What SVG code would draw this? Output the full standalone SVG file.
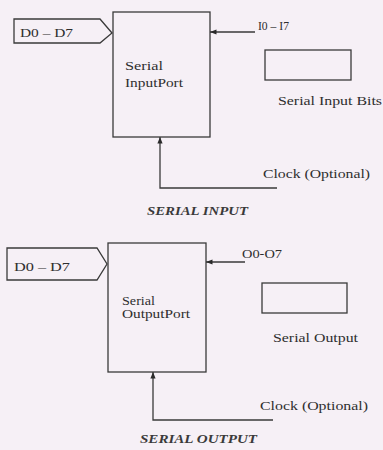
<svg xmlns="http://www.w3.org/2000/svg" width="383" height="450" viewBox="0 0 383 450">
<defs>
<marker id="ah" viewBox="0 0 10 10" refX="10" refY="5" markerWidth="5" markerHeight="5" orient="auto">
<path d="M0,1 L10,5 L0,9 z" fill="#2a2a2a"/>
</marker>
<style>
.ln{fill:none;stroke:#3a3a3a;stroke-width:1.3}
.bx{fill:none;stroke:#3a3a3a;stroke-width:1.3}
.t{font-family:"Liberation Serif",serif;font-size:12.5px;fill:#2e2e2e}
.s{font-family:"Liberation Serif",serif;font-size:12px;fill:#2e2e2e}
.cap{font-family:"Liberation Serif",serif;font-size:12.5px;font-style:italic;font-weight:bold;fill:#3a3a3a}
</style>
</defs>
<rect width="383" height="450" fill="#f6f0f6"/>

<g id="in-data">
<path class="bx" d="M14,19 H100 L112,33 L100,43 H14 Z"/>
<text class="t" x="20" y="37" textLength="53" lengthAdjust="spacingAndGlyphs">D0 – D7</text>
</g>
<g id="serial-input-port">
<rect class="bx" x="113" y="12" width="97" height="125"/>
<text class="t" x="125" y="70" textLength="38" lengthAdjust="spacingAndGlyphs">Serial</text>
<text class="t" x="125" y="87" textLength="58" lengthAdjust="spacingAndGlyphs">InputPort</text>
</g>
<g id="in-bits-label">
<text class="s" x="258" y="30" textLength="31" lengthAdjust="spacingAndGlyphs">I0 – I7</text>
</g>
<g id="serial-input-bits">
<rect class="bx" x="265" y="50" width="86" height="30"/>
<text class="t" x="278" y="105" textLength="104" lengthAdjust="spacingAndGlyphs">Serial Input Bits</text>
</g>
<g id="in-clock">
<text class="t" x="263" y="178" textLength="107" lengthAdjust="spacingAndGlyphs">Clock (Optional)</text>
</g>
<text class="cap" x="147" y="215" textLength="101" lengthAdjust="spacingAndGlyphs">SERIAL INPUT</text>

<g id="out-data">
<path class="bx" d="M7,248 H97 L107,264 L97,280 H7 Z"/>
<text class="t" x="14" y="271" textLength="56" lengthAdjust="spacingAndGlyphs">D0 – D7</text>
</g>
<g id="serial-output-port">
<rect class="bx" x="108" y="243" width="98" height="129"/>
<text class="t" x="122" y="305" textLength="33" lengthAdjust="spacingAndGlyphs">Serial</text>
<text class="t" x="122" y="318" textLength="68" lengthAdjust="spacingAndGlyphs">OutputPort</text>
</g>
<g id="out-bits-label">
<text class="s" x="242" y="258" textLength="40" lengthAdjust="spacingAndGlyphs">O0-O7</text>
</g>
<g id="serial-output">
<rect class="bx" x="262" y="283" width="85" height="30"/>
<text class="t" x="273" y="342" textLength="85" lengthAdjust="spacingAndGlyphs">Serial Output</text>
</g>
<g id="out-clock">
<text class="t" x="260" y="410" textLength="108" lengthAdjust="spacingAndGlyphs">Clock (Optional)</text>
</g>
<text class="cap" x="140" y="443" textLength="117" lengthAdjust="spacingAndGlyphs">SERIAL OUTPUT</text>

<g id="connectors">
<path class="ln" d="M255,32 H210" marker-end="url(#ah)"/>
<path class="ln" d="M277,188 H160 V137" marker-end="url(#ah)"/>
<path class="ln" d="M245,262 H206" marker-end="url(#ah)"/>
<path class="ln" d="M273,420 H153 V372" marker-end="url(#ah)"/>
</g>
</svg>
